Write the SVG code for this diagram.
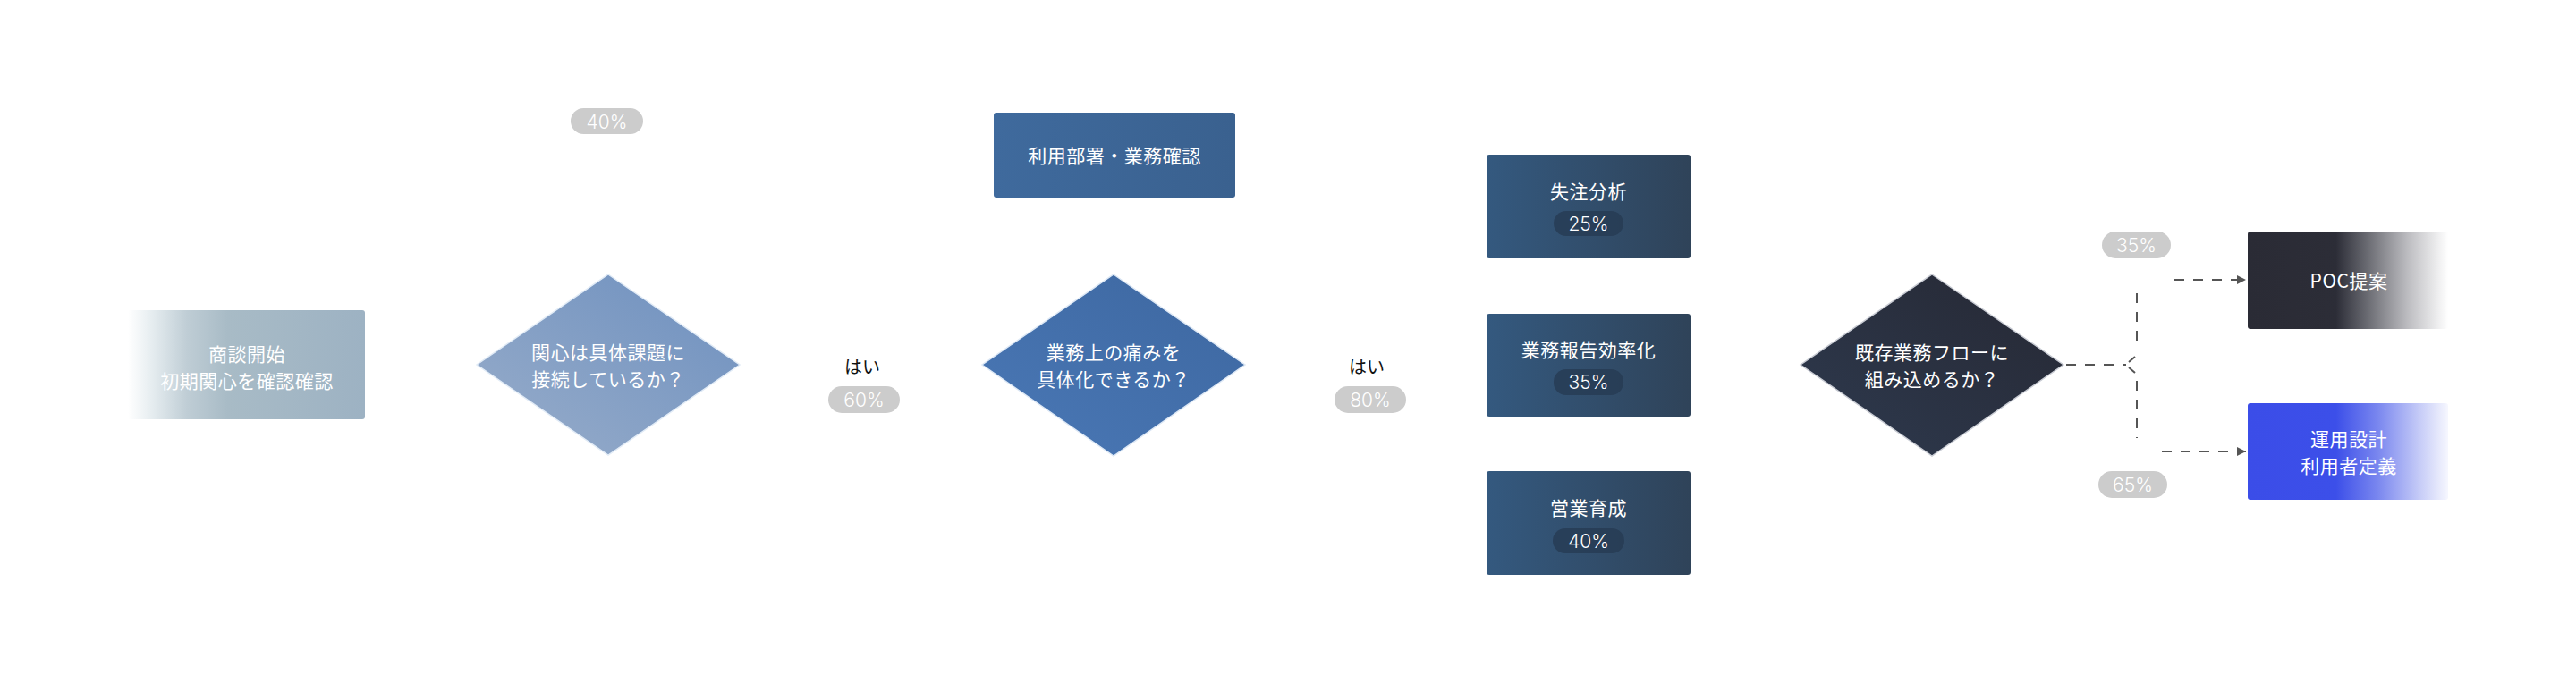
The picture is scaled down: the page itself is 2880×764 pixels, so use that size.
<svg xmlns="http://www.w3.org/2000/svg" width="2880" height="764" viewBox="0 0 2880 764">
<defs>
<linearGradient id="gStart" x1="0" y1="0" x2="1" y2="0">
<stop offset="0" stop-color="#ffffff"/>
<stop offset="0.1" stop-color="#e6edf0"/>
<stop offset="0.25" stop-color="#bfcdd5"/>
<stop offset="0.42" stop-color="#a8bbc6"/>
<stop offset="1" stop-color="#9db2c3"/>
</linearGradient>
<linearGradient id="gD1" x1="0" y1="1" x2="1" y2="0">
<stop offset="0" stop-color="#98adca"/>
<stop offset="1" stop-color="#6e90bf"/>
</linearGradient>
<linearGradient id="gD2" x1="0" y1="1" x2="1" y2="0">
<stop offset="0" stop-color="#4a78b6"/>
<stop offset="1" stop-color="#3d67a0"/>
</linearGradient>
<linearGradient id="gBox2" x1="0" y1="0" x2="1" y2="0">
<stop offset="0" stop-color="#3f6a9d"/>
<stop offset="1" stop-color="#3a618f"/>
</linearGradient>
<linearGradient id="gDark" x1="0" y1="0" x2="1" y2="0">
<stop offset="0" stop-color="#34597f"/>
<stop offset="1" stop-color="#2f4359"/>
</linearGradient>
<linearGradient id="gD3" x1="0" y1="1" x2="1" y2="0">
<stop offset="0" stop-color="#2e3a4f"/>
<stop offset="1" stop-color="#262833"/>
</linearGradient>
<linearGradient id="gPoc" x1="0" y1="0" x2="1" y2="0">
<stop offset="0" stop-color="#2a2b35"/>
<stop offset="0.44" stop-color="#2c2d37"/>
<stop offset="0.6" stop-color="#6b6c73"/>
<stop offset="0.8" stop-color="#bdbdc1"/>
<stop offset="1" stop-color="#ffffff"/>
</linearGradient>
<linearGradient id="gBlue" x1="0" y1="0" x2="1" y2="0">
<stop offset="0" stop-color="#3b4de8"/>
<stop offset="0.44" stop-color="#3c4fe9"/>
<stop offset="0.65" stop-color="#7a87ef"/>
<stop offset="0.85" stop-color="#c3c9f7"/>
<stop offset="1" stop-color="#f6f7fe"/>
</linearGradient>
<marker id="arr" viewBox="0 0 10 10" refX="10" refY="5" markerWidth="10" markerHeight="10" markerUnits="userSpaceOnUse" orient="auto">
<path d="M0 0 L10 5 L0 10 Z" fill="#555555"/>
</marker>
<style>
.t{font-family:"Noto Sans CJK JP","Noto Sans",sans-serif;font-size:21px;fill:#ffffff;text-anchor:middle;dominant-baseline:central;letter-spacing:0.5px}
.yes{font-family:"Noto Sans CJK JP","Noto Sans",sans-serif;font-size:20px;fill:#111111;text-anchor:middle;dominant-baseline:central}
.pct{font-family:Inter,"Noto Sans",sans-serif;font-size:21px;font-weight:300;fill:#ffffff;text-anchor:middle;dominant-baseline:central}
.pill{fill:#cccccc}
.ipill{fill:#253a52;fill-opacity:0.75}
.dash{fill:none;stroke:#555555;stroke-width:2;stroke-dasharray:11 10}
.solid{fill:none;stroke:#555555;stroke-width:2}
</style>
</defs>
<rect width="2880" height="764" fill="#ffffff"/>

<g id="connectors">
<path class="dash" d="M2310 408 H2377"/>
<path class="solid" d="M2380 405 L2387 399 M2380 411 L2387 417"/>
<path class="dash" d="M2389 328 V390"/>
<path class="dash" d="M2389 426 V490"/>
<path class="dash" d="M2431 313 H2511" marker-end="url(#arr)"/>
<path class="dash" d="M2417 505 H2511" marker-end="url(#arr)"/>
</g>

<g id="start">
<rect x="143" y="347" width="265" height="122" rx="3" fill="url(#gStart)"/>
<text class="t" x="276" y="395">商談開始</text>
<text class="t" x="276" y="425">初期関心を確認確認</text>
</g>

<g id="label40a">
<rect class="pill" x="638" y="121" width="81" height="29" rx="14.5"/>
<text class="pct" x="678.5" y="136">40%</text>
</g>

<g id="decision1">
<polygon points="680,307 827,408 680,509 533,408" fill="url(#gD1)" stroke="#e1ebf6" stroke-width="1.5"/>
<text class="t" x="680" y="393">関心は具体課題に</text>
<text class="t" x="680" y="423">接続しているか？</text>
</g>

<g id="yes1">
<text class="yes" x="964" y="409">はい</text>
<rect class="pill" x="926" y="432" width="80" height="30" rx="15"/>
<text class="pct" x="966" y="447">60%</text>
</g>

<g id="dept">
<rect x="1111" y="126" width="270" height="95" rx="3" fill="url(#gBox2)"/>
<text class="t" x="1246" y="173">利用部署・業務確認</text>
</g>

<g id="decision2">
<polygon points="1245,307 1392,408 1245,510 1098,408" fill="url(#gD2)" stroke="#dde8f5" stroke-width="1.5"/>
<text class="t" x="1245" y="393">業務上の痛みを</text>
<text class="t" x="1245" y="423">具体化できるか？</text>
</g>

<g id="yes2">
<text class="yes" x="1528" y="409">はい</text>
<rect class="pill" x="1492" y="432" width="80" height="30" rx="15"/>
<text class="pct" x="1532" y="447">80%</text>
</g>

<g id="opt1">
<rect x="1662" y="173" width="228" height="116" rx="3" fill="url(#gDark)"/>
<text class="t" x="1776" y="213">失注分析</text>
<rect class="ipill" x="1737" y="236" width="78" height="28" rx="14"/>
<text class="pct" x="1776" y="250">25%</text>
</g>

<g id="opt2">
<rect x="1662" y="351" width="228" height="115" rx="3" fill="url(#gDark)"/>
<text class="t" x="1776" y="390">業務報告効率化</text>
<rect class="ipill" x="1737" y="413" width="78" height="29" rx="14"/>
<text class="pct" x="1776" y="427.5">35%</text>
</g>

<g id="opt3">
<rect x="1662" y="527" width="228" height="116" rx="3" fill="url(#gDark)"/>
<text class="t" x="1776" y="567">営業育成</text>
<rect class="ipill" x="1736" y="591" width="80" height="28" rx="14"/>
<text class="pct" x="1776" y="605">40%</text>
</g>

<g id="decision3">
<polygon points="2160,307 2307,408 2160,510 2013,408" fill="url(#gD3)" stroke="#c9ccd4" stroke-width="1.5"/>
<text class="t" x="2160" y="393">既存業務フローに</text>
<text class="t" x="2160" y="423">組み込めるか？</text>
</g>

<g id="label35">
<rect class="pill" x="2350" y="259" width="77" height="30" rx="15"/>
<text class="pct" x="2388.5" y="274">35%</text>
</g>

<g id="label65">
<rect class="pill" x="2346" y="527" width="77" height="30" rx="15"/>
<text class="pct" x="2384.5" y="542">65%</text>
</g>

<g id="poc">
<rect x="2513" y="259" width="224" height="109" rx="3" fill="url(#gPoc)"/>
<text class="t" x="2626" y="313">POC提案</text>
</g>

<g id="ops">
<rect x="2513" y="451" width="224" height="108" rx="3" fill="url(#gBlue)"/>
<text class="t" x="2626" y="490">運用設計</text>
<text class="t" x="2626" y="520">利用者定義</text>
</g>
</svg>
